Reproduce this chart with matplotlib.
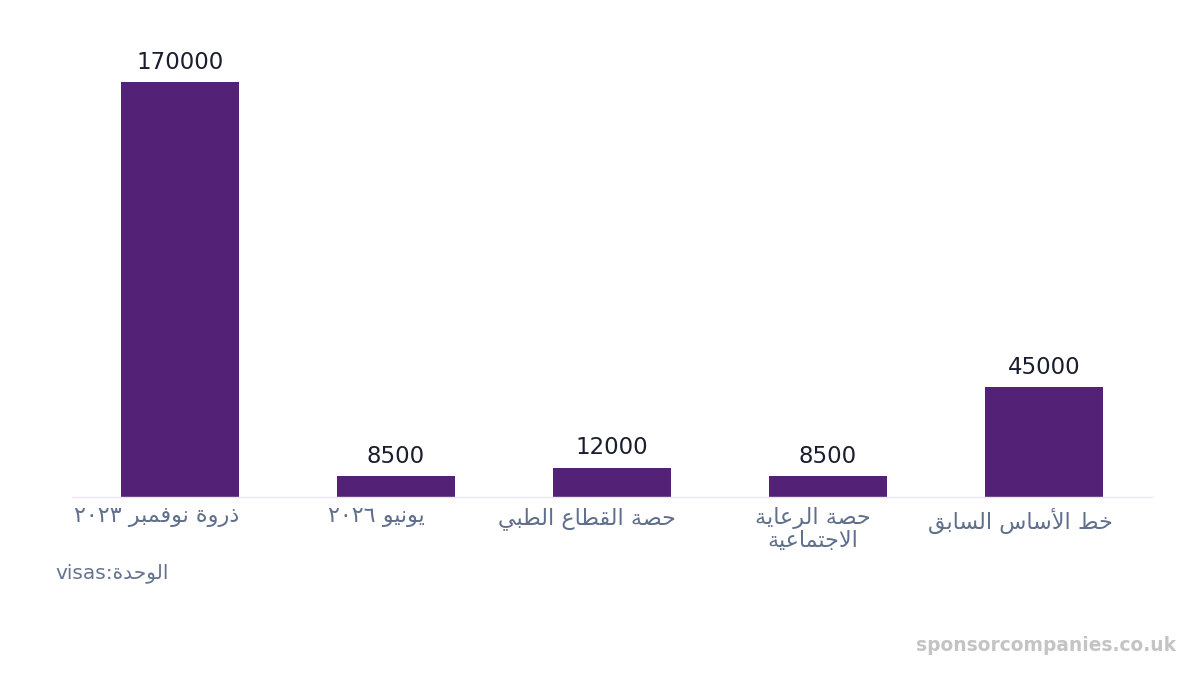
import matplotlib
matplotlib.use("Agg")
import matplotlib.pyplot as plt

plt.rcParams["font.family"] = ["DejaVu Sans"]

# data
categories = ["ذروة نوفمبر ٢٠٢٣", "يونيو ٢٠٢٦", "حصة القطاع الطبي",
              "حصة الرعاية\nالاجتماعية", "خط الأساس السابق"]
values = [170000, 8500, 12000, 8500, 45000]
unit_word = "الوحدة"
unit_value = "visas"
watermark = "sponsorcompanies.co.uk"

# matplotlib has no Arabic shaping, so map letters to presentation forms
# (base codepoint of isolated form, dual joining?)
FORMS = {
    "ا": (0xFE8D, False), "أ": (0xFE83, False), "ب": (0xFE8F, True),
    "ة": (0xFE93, False), "ت": (0xFE95, True), "ج": (0xFE9D, True),
    "ح": (0xFEA1, True), "خ": (0xFEA5, True), "د": (0xFEA9, False),
    "ذ": (0xFEAB, False), "ر": (0xFEAD, False), "س": (0xFEB1, True),
    "ص": (0xFEB9, True), "ط": (0xFEC1, True), "ع": (0xFEC9, True),
    "ف": (0xFED1, True), "ق": (0xFED5, True), "ل": (0xFEDD, True),
    "م": (0xFEE1, True), "ن": (0xFEE5, True), "و": (0xFEED, False),
    "ي": (0xFEF1, True),
}
LAM_ALEF = {"ا": 0xFEFB, "أ": 0xFEF7}


def shape_word(word):
    # merge lam + alef into ligature
    chars = []
    i = 0
    while i < len(word):
        if word[i] == "ل" and i + 1 < len(word) and word[i + 1] in LAM_ALEF:
            chars.append(("LA", LAM_ALEF[word[i + 1]]))
            i += 2
        else:
            chars.append((word[i], None))
            i += 1
    out = []
    for k, (c, lig) in enumerate(chars):
        prev = chars[k - 1][0] if k > 0 else None
        nxt = chars[k + 1][0] if k + 1 < len(chars) else None
        join_prev = prev in FORMS and FORMS[prev][1]
        if c == "LA":
            out.append(chr(lig + (1 if join_prev else 0)))
            continue
        if c not in FORMS:
            out.append(c)
            continue
        base, dual = FORMS[c]
        join_next = dual and (nxt in FORMS or nxt == "LA")
        if join_prev and join_next:
            out.append(chr(base + 3))
        elif join_next:
            out.append(chr(base + 2))
        elif join_prev:
            out.append(chr(base + 1))
        else:
            out.append(chr(base))
    return "".join(reversed(out))


def rtl(text):
    lines = []
    for line in text.split("\n"):
        words = []
        for w in line.split(" "):
            if any(ch in FORMS for ch in w):
                words.append(shape_word(w))
            else:
                words.append(w)
        lines.append(" ".join(reversed(words)))
    return "\n".join(lines)


fig = plt.figure(figsize=(12, 6.75), dpi=100)
ax = fig.add_axes([0.06, 0.2637, 0.9, 0.6474])

x = list(range(len(values)))
bars = ax.bar(x, values, width=0.55, color="#532277", zorder=2)
ax.set_xlim(-0.5, len(values) - 0.5)
ax.set_ylim(0, 179000)

for b, v in zip(bars, values):
    ax.annotate(str(v), (b.get_x() + b.get_width() / 2, v), xytext=(0, 6),
                textcoords="offset points", ha="center", va="bottom",
                fontsize=16.5, color="#1a1d2e")

for s in ["top", "right", "left"]:
    ax.spines[s].set_visible(False)
ax.spines["bottom"].set_color("#e8e8ee")
ax.spines["bottom"].set_linewidth(1)
ax.set_yticks([])
ax.set_xticks(x)
ax.set_xticklabels([])
ax.tick_params(axis="x", length=0)

# category labels sit a little left of bar centres, like the reference
shifts = [-0.109, -0.093, -0.118, -0.07, -0.111]
dys = [0, 0, 0, 0, -1]
for i, (lab, sh, dy) in enumerate(zip(categories, shifts, dys)):
    ax.annotate(rtl(lab), (i + sh, 0), xytext=(0, -7 + dy),
                textcoords="offset points", ha="center", va="top",
                fontsize=16, color="#5f6f8c", linespacing=1.15,
                multialignment="center")

fig.text(0.046, 0.151, unit_value + ":" + rtl(unit_word), fontsize=14.5,
         color="#66748f", ha="left", va="center")
fig.text(0.98, 0.043, watermark, fontsize=13.4, fontweight="bold",
         color="#c4c4c4", ha="right", va="center")

fig.savefig("out.png", dpi=100, facecolor="white")
